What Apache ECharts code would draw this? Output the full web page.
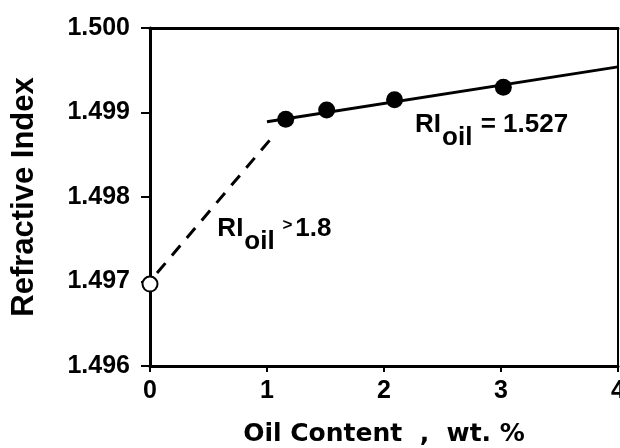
<!DOCTYPE html>
<html>
<head>
<meta charset="utf-8">
<script src="https://cdn.jsdelivr.net/npm/echarts@6/dist/echarts.min.js"></script>
<style>
html,body{margin:0;padding:0;background:#fff;}
#chart{width:620px;height:448px;}
</style>
</head>
<body>
<div id="chart"></div>
<script>
// Data
var xTicks = [0, 1, 2, 3, 4];
var yTicks = [1.496, 1.497, 1.498, 1.499, 1.500];
var measuredPoints = [[1.16, 1.49892], [1.51, 1.49903], [2.09, 1.49915], [3.02, 1.49930]];
var pureResinPoint = [[0, 1.49697]];
var fitLine = [[1.0, 1.49889], [4.0, 1.49954]];
var dashedLine = [[0.06, 1.49710], [1.04, 1.49870]];
var annotationPos = [[2.27, 1.49900], [0.58, 1.49777]];
var annotationMain = ['RI', 'RI'];
var annotationSub = ['oil', 'oil'];
var annotationRel = [' = ', ' >'];
var annotationValue = ['1.527', '1.8'];

var ARIAL = '"Liberation Sans", Arial, sans-serif';
var VERD = '"DejaVu Sans", Verdana, sans-serif';

var chart = echarts.init(document.getElementById('chart'));
var annData = annotationPos.map(function (p, i) {
  return { value: p, idx: i };
});
var option = {
  animation: false,
  backgroundColor: '#fff',
  grid: { left: 150, right: 2, top: 28, bottom: 82, show: true, borderColor: '#000', borderWidth: 2,
    backgroundColor: 'transparent', containLabel: false, outerBoundsMode: 'none' },
  xAxis: [{
    type: 'value', min: xTicks[0], max: xTicks[xTicks.length - 1], interval: 1,
    name: 'Oil Content  ,  wt. %', nameLocation: 'middle', nameGap: 56,
    nameTextStyle: { fontFamily: VERD, fontWeight: 'bold', fontSize: 25, color: '#000' },
    axisLine: { show: true, lineStyle: { color: '#000', width: 3 } },
    axisTick: { show: true, inside: false, length: 6, lineStyle: { color: '#000', width: 2 } },
    axisLabel: { margin: 13, fontFamily: ARIAL, fontWeight: 'bold', fontSize: 25, color: '#000',
      formatter: function (v) { return String(v); } },
    splitLine: { show: false }
  }, {
    type: 'value', position: 'top', min: xTicks[0], max: xTicks[xTicks.length - 1],
    axisLine: { show: true, lineStyle: { color: '#000', width: 3 } },
    axisTick: { show: false }, axisLabel: { show: false }, splitLine: { show: false }
  }],
  yAxis: [{
    type: 'value', min: yTicks[0], max: yTicks[yTicks.length - 1], interval: 0.001,
    name: 'Refractive Index', nameLocation: 'middle', nameGap: 110,
    nameTextStyle: { fontFamily: ARIAL, fontWeight: 'bold', fontSize: 31, color: '#000' },
    axisLine: { show: true, lineStyle: { color: '#000', width: 3 } },
    axisTick: { show: true, inside: false, length: 9, lineStyle: { color: '#000', width: 2 } },
    axisLabel: { margin: 20, fontFamily: ARIAL, fontWeight: 'bold', fontSize: 25, color: '#000',
      formatter: function (v) { return v.toFixed(3); } },
    splitLine: { show: false }
  }],
  series: [
    {
      type: 'line', data: fitLine, symbol: 'none', silent: true,
      lineStyle: { color: '#000', width: 3 }, z: 2
    },
    {
      type: 'line', data: dashedLine, symbol: 'none', silent: true,
      lineStyle: { color: '#000', width: 3, type: [13, 10] }, z: 2
    },
    {
      type: 'scatter', data: measuredPoints, symbol: 'circle', symbolSize: 17,
      itemStyle: { color: '#000', opacity: 1 }, z: 3
    },
    {
      type: 'scatter', data: pureResinPoint, symbol: 'circle', symbolSize: 15,
      itemStyle: { color: '#fff', borderColor: '#000', borderWidth: 2, opacity: 1 }, z: 4
    },
    {
      type: 'scatter', data: annData, symbolSize: 1, silent: true,
      itemStyle: { color: 'rgba(0,0,0,0)', opacity: 1 }, z: 5,
      label: {
        show: true, position: [0, 0], align: 'left', verticalAlign: 'top', color: '#000',
        textBorderWidth: 0, opacity: 1,
        formatter: function (p) {
          var i = p.data.idx;
          var rel = annotationRel[i] === ' >' ? '{g|' + annotationRel[i] + '}' : '{m|' + annotationRel[i] + '}';
          return '{m|' + annotationMain[i] + '}{s|' + annotationSub[i] + '}' + rel + '{m|' + annotationValue[i] + '}';
        },
        rich: {
          m: { fontFamily: ARIAL, fontWeight: 'bold', fontSize: 26, color: '#000', verticalAlign: 'top' },
          s: { fontFamily: ARIAL, fontWeight: 'bold', fontSize: 26, color: '#000', verticalAlign: 'top', padding: [13, 1, 0, 1] },
          g: { fontFamily: ARIAL, fontWeight: 'bold', fontSize: 17, color: '#000', verticalAlign: 'top', padding: [1, 3, 0, 2] }
        }
      }
    }
  ]
};
chart.setOption(option);
</script>
</body>
</html>
